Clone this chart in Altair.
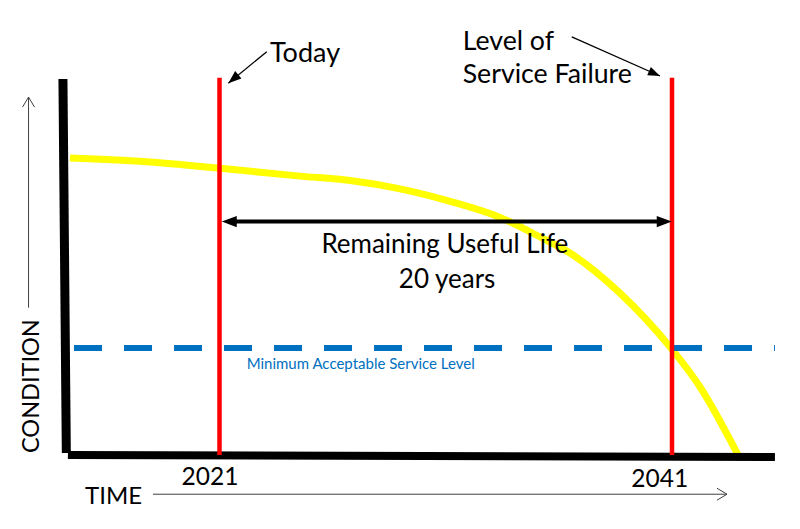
import altair as alt
import pandas as pd

# ---------------- data ----------------
# yellow condition curve (year, condition)
curve_year = [2014.39, 2017.93, 2020.93, 2024.56, 2026.77, 2028.98, 2031.19,
              2033.40, 2035.17, 2036.49, 2038.70, 2040.91, 2042.24, 2043.92]
curve_cond = [100.0, 98.65, 96.6, 93.9, 92.4, 89.6, 85.4,
              80.0, 73.4, 68.0, 54.5, 36.4, 22.9, 0.0]

today_year = 2021
failure_year = 2041
marker_years = [today_year, failure_year]
marker_top = 127.0

min_service_level = 36.0
min_level_span = [2014.57, 2045.55]

# axes (thick black lines): x, y, x2, y2, width
axis_x = [2014.08, 2014.30]
axis_y = [126.6, 0.0]
axis_x2 = [2014.23, 2045.55]
axis_y2 = [0.67, -0.67]
axis_w = [9, 8]

# remaining useful life double arrow
rul_level = 78.6
rul_tips = [2021.10, 2040.99]

# annotation arrows (start -> tip)
ann_x = [2023.09, 2036.57]
ann_y = [135.8, 140.8]
ann_x2 = [2021.39, 2040.47]
ann_y2 = [125.2, 127.6]
ann_angle = [230, 114]
ann_size = [169, 144]

# gray axis-title arrows
time_arrow = dict(x=2018.06, x2=2043.43, y=-13.2)
cond_arrow = dict(x=2012.56, y=49.6, y2=120.5)

# text labels
left_texts = ["Today", "Level of", "Service Failure", "TIME",
              "Minimum Acceptable Service Level", "CONDITION"]
left_x = [2023.23, 2031.75, 2031.75, 2015.06, 2022.20, 2013.04]
left_y = [132.3, 136.4, 125.3, -16.5, 29.0, 0.67]
left_size = [27, 26.7, 26.7, 24, 15, 23.5]
left_color = ["#000000", "#000000", "#000000", "#000000", "#0070C0", "#000000"]
left_angle = [0, 0, 0, 0, 0, 270]

center_texts = ["Remaining Useful Life", "20 years", "2021", "2041"]
center_x = [2030.96, 2031.06, 2020.58, 2040.46]
center_y = [67.9, 56.1, -10.1, -10.7]
center_size = [26, 26, 24.5, 24.5]

# ---------------- scales ----------------
PX_PER_YEAR = 22.625
PX_PER_UNIT = 2.97
X0 = 2021 - 219.5 / PX_PER_YEAR
X1 = 2021 + 580.5 / PX_PER_YEAR
Y0 = -74 / PX_PER_UNIT
Y1 = 455 / PX_PER_UNIT

xs = alt.Scale(domain=[X0, X1], nice=False, zero=False)
ys = alt.Scale(domain=[Y0, Y1], nice=False, zero=False)


def X(f="x"):
    return alt.X(f"{f}:Q", scale=xs, axis=None)


def Y(f="y"):
    return alt.Y(f"{f}:Q", scale=ys, axis=None)


FONT = "Lato"
ARROW_FILLED = "M0,0L0.75,2L-0.75,2Z"
CHEVRON = "M-1.2,2L0,0L1.2,2"

# ---------------- layers ----------------
curve = alt.Chart(pd.DataFrame({"x": curve_year, "y": curve_cond})).mark_line(
    color="#FFFF00", strokeWidth=7, interpolate="monotone"
).encode(x=X(), y=Y())

min_line = alt.Chart(pd.DataFrame({
    "x": [min_level_span[0]], "x2": [min_level_span[1]], "y": [min_service_level]
})).mark_rule(color="#0070C0", strokeWidth=6, strokeDash=[28, 22], strokeCap="butt").encode(
    x=X(), x2="x2:Q", y=Y()
)

axes = alt.Chart(pd.DataFrame({
    "x": axis_x, "y": axis_y, "x2": axis_x2, "y2": axis_y2, "w": axis_w
})).mark_rule(color="#000000", strokeCap="butt").encode(
    x=X(), y=Y(), x2="x2:Q", y2="y2:Q", size=alt.Size("w:Q", scale=None, legend=None)
)

markers = alt.Chart(pd.DataFrame({
    "x": marker_years, "y": [0.0, 0.0], "y2": [marker_top, marker_top]
})).mark_rule(color="#FF0000", strokeWidth=4.5, strokeCap="butt").encode(
    x=X(), y=Y(), y2="y2:Q"
)

rul_shaft = alt.Chart(pd.DataFrame({
    "x": [rul_tips[0] + 0.4], "x2": [rul_tips[1] - 0.4], "y": [rul_level]
})).mark_rule(color="#000000", strokeWidth=4).encode(x=X(), x2="x2:Q", y=Y())

rul_heads = alt.Chart(pd.DataFrame({
    "x": rul_tips, "y": [rul_level, rul_level], "a": [270, 90]
})).mark_point(shape=ARROW_FILLED, filled=True, color="#000000", opacity=1,
               size=225, strokeWidth=0).encode(
    x=X(), y=Y(), angle=alt.Angle("a:Q", scale=None)
)

ann_lines = alt.Chart(pd.DataFrame({
    "x": ann_x, "y": ann_y, "x2": ann_x2, "y2": ann_y2
})).mark_rule(color="#000000", strokeWidth=1.3).encode(
    x=X(), y=Y(), x2="x2:Q", y2="y2:Q"
)

ann_heads = alt.Chart(pd.DataFrame({
    "x": ann_x2, "y": ann_y2, "a": ann_angle, "s": ann_size
})).mark_point(shape=ARROW_FILLED, filled=True, color="#000000", opacity=1,
               strokeWidth=0).encode(
    x=X(), y=Y(), angle=alt.Angle("a:Q", scale=None),
    size=alt.Size("s:Q", scale=None, legend=None)
)

gray = "#404040"
time_line = alt.Chart(pd.DataFrame({k: [v] for k, v in time_arrow.items()})).mark_rule(
    color=gray, strokeWidth=1
).encode(x=X(), x2="x2:Q", y=Y())
cond_line = alt.Chart(pd.DataFrame({k: [v] for k, v in cond_arrow.items()})).mark_rule(
    color=gray, strokeWidth=1
).encode(x=X(), y=Y(), y2="y2:Q")
chevrons = alt.Chart(pd.DataFrame({
    "x": [time_arrow["x2"], cond_arrow["x"]],
    "y": [time_arrow["y"], cond_arrow["y2"]],
    "a": [90, 0],
})).mark_point(shape=CHEVRON, filled=False, color=gray, opacity=1,
               size=100, strokeWidth=1).encode(
    x=X(), y=Y(), angle=alt.Angle("a:Q", scale=None)
)

left_lbl = alt.Chart(pd.DataFrame({
    "t": left_texts, "x": left_x, "y": left_y, "s": left_size,
    "c": left_color, "a": left_angle
})).mark_text(align="left", baseline="alphabetic", font=FONT).encode(
    x=X(), y=Y(), text="t:N",
    size=alt.Size("s:Q", scale=None, legend=None),
    color=alt.Color("c:N", scale=None, legend=None),
    angle=alt.Angle("a:Q", scale=None),
)

center_lbl = alt.Chart(pd.DataFrame({
    "t": center_texts, "x": center_x, "y": center_y, "s": center_size
})).mark_text(align="center", baseline="alphabetic", font=FONT, color="#000000").encode(
    x=X(), y=Y(), text="t:N",
    size=alt.Size("s:Q", scale=None, legend=None),
)

chart = alt.layer(
    curve, min_line, axes, markers, rul_shaft, rul_heads,
    ann_lines, ann_heads, time_line, cond_line, chevrons,
    left_lbl, center_lbl,
).properties(
    width=800, height=529, padding=0, autosize=alt.AutoSizeParams(type="none"),
    background="#FFFFFF",
).configure_view(stroke=None)

chart.save("out.html", embed_options={"renderer": "svg", "actions": False})
